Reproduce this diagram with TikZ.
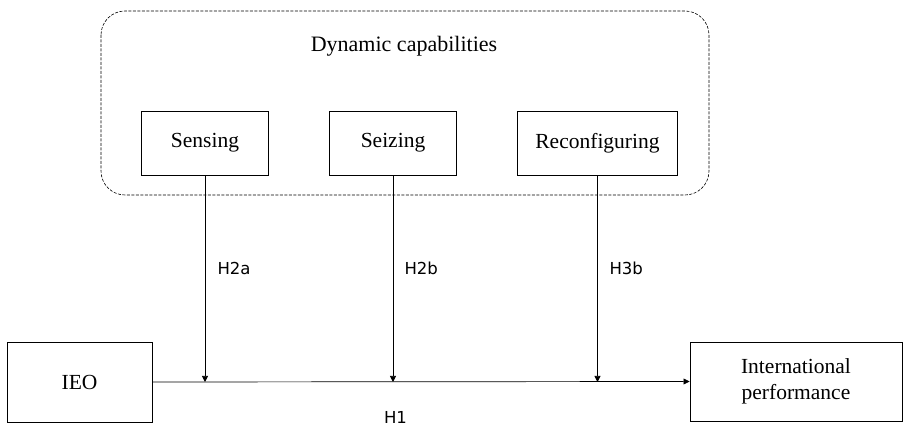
\documentclass[tikz,border=0pt]{standalone}
\usepackage{fontspec}
\setmainfont{Liberation Serif}
\newfontfamily\hfont{DejaVu Sans}
\usetikzlibrary{arrows.meta}
\begin{document}
\begin{tikzpicture}[x=1pt,y=-1pt,
  box/.style={draw, line width=0.9pt, minimum width=#1, minimum height=64pt, inner sep=0pt, font=\fontsize{21.5}{26}\selectfont, align=center},
  arr/.style={line width=0.7pt, -{Triangle[length=6pt,width=6pt]}},
  hlab/.style={font=\hfont\fontsize{16.5}{19}\selectfont, anchor=west}]
\useasboundingbox (0,0) rectangle (906,427);
\draw[dashed, dash pattern=on 3pt off 1.5pt, line width=0.6pt, rounded corners=24pt] (101,11) rectangle (709,195);
\node[font=\fontsize{22}{26}\selectfont] (dc) at (404,46) {Dynamic capabilities};
\node[box=127pt] (sen) at (205,143) {Sensing};
\node[box=127pt] (sei) at (393,143) {Seizing};
\node[box=160pt] (rec) at (597.5,143) {Reconfiguring};
\node[box=145pt, minimum height=80pt] (ieo) at (79.5,382) {IEO};
\node[box=212pt, minimum height=79pt] (ip) at (796,381.5) {International\\performance};
\draw[arr] (ieo.east) -- (ip.west);
\coordinate (m1) at (sen.south |- ieo.east);
\coordinate (m2) at (sei.south |- ieo.east);
\coordinate (m3) at (rec.south |- ieo.east);
\draw[arr] (sen.south) -- (m1);
\draw[arr] (sei.south) -- (m2);
\draw[arr] (rec.south) -- (m3);
\node[hlab] (h2a) at (214,268) {H2a};
\node[hlab] (h2b) at (401,268) {H2b};
\node[hlab] (h3b) at (606,268) {H3b};
\node[font=\hfont\fontsize{16.5}{19}\selectfont, anchor=base] (h1) at (395.5,424) {H1};
\end{tikzpicture}
\end{document}
